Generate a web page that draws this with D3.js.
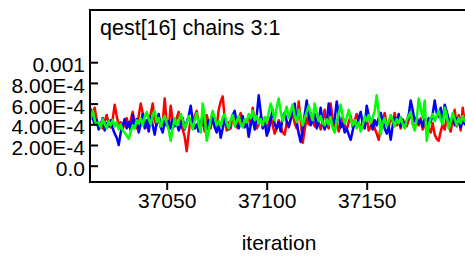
<!DOCTYPE html>
<html>
<head>
<meta charset="utf-8">
<script src="https://cdn.jsdelivr.net/npm/d3@7"></script>
<style>
  body { margin: 0; background: #fff; }
  svg { display: block; font-family: "Liberation Sans", Arial, sans-serif; }
</style>
</head>
<body>
<div id="chart-area"></div>
<script>
// trace of qest[16], values in units of 1E-4, iterations 37011..37200
var firstIter = 37011;

var redChain = [
  4.2,4.6,5.1,5.6,4.4,3.8,4.1,3.6,4.3,4.9,
  4.0,3.7,4.5,5.9,4.8,3.9,4.2,3.5,4.1,4.6,
  3.8,4.4,5.2,4.1,3.6,4.8,6.0,5.1,4.0,3.7,
  4.5,5.0,6.0,4.3,3.9,4.7,3.8,4.2,6.5,4.1,
  3.6,5.8,4.4,3.9,4.6,5.2,4.0,3.5,2.8,1.4,
  3.2,4.5,3.9,4.8,5.3,4.2,3.7,4.4,3.3,4.9,
  4.1,3.6,5.0,4.3,3.8,5.4,6.2,6.7,4.6,3.4,
  4.2,3.6,4.9,4.0,3.7,4.5,5.1,4.2,3.8,4.4,
  4.6,3.9,5.6,4.2,3.6,4.0,4.8,3.8,4.3,3.4,
  4.1,4.7,3.9,3.1,3.6,4.4,3.8,3.2,3.0,4.2,
  3.7,4.5,5.0,4.1,3.6,6.2,4.4,2.2,3.5,4.6,
  4.0,5.1,4.3,3.8,4.6,4.1,3.5,4.4,5.4,3.9,
  3.6,6.0,4.5,3.8,4.3,3.3,4.0,4.7,3.9,3.5,
  4.2,4.8,3.7,4.4,5.0,4.1,3.6,4.3,3.9,4.6,
  3.4,3.8,4.5,3.6,3.1,2.5,3.8,4.4,5.1,4.0,
  3.7,4.8,4.2,5.1,3.9,4.3,3.6,4.5,4.0,3.8,
  4.4,5.3,4.1,3.7,4.2,3.9,4.6,3.5,3.9,4.3,
  3.6,3.2,4.1,3.0,2.6,2.4,3.3,4.0,3.5,4.6,
  3.9,3.3,4.5,5.4,3.8,4.9,3.4,5.6,4.2,4.6
];

var blueChain = [
  5.9,5.4,4.6,4.0,4.4,3.5,3.9,4.6,3.4,4.1,
  3.8,4.4,3.6,3.1,2.7,2.0,3.2,3.9,4.5,3.6,
  4.2,3.4,4.9,3.8,4.5,3.2,4.0,5.0,3.6,4.4,
  3.3,4.7,3.9,3.0,4.2,5.0,3.7,3.2,4.3,3.9,
  4.3,3.6,4.5,3.8,4.1,3.4,3.9,4.6,3.5,4.2,
  4.8,5.8,4.4,3.6,4.0,3.3,4.2,4.7,3.8,3.5,
  4.4,3.9,4.6,3.7,3.2,4.1,2.7,3.6,4.5,4.0,
  3.5,4.3,4.9,5.3,4.1,3.6,4.2,4.8,3.7,4.3,
  2.8,3.9,4.6,3.5,4.8,6.8,5.2,3.6,4.3,2.9,
  3.4,4.5,5.4,4.0,3.6,4.2,3.3,4.7,5.1,4.3,
  3.8,4.5,5.5,6.0,4.2,3.1,2.3,3.4,4.9,6.3,
  4.7,3.9,4.4,5.0,3.6,4.3,5.6,4.1,3.5,4.2,
  6.0,4.8,3.9,4.5,6.2,5.0,3.7,4.1,3.2,3.6,
  3.0,2.5,3.4,4.2,3.8,4.6,5.2,4.0,3.6,5.8,
  4.9,4.2,3.5,4.4,3.9,4.6,5.1,4.3,3.6,3.1,
  3.8,2.5,3.9,4.6,4.2,5.0,3.8,4.4,3.9,4.3,
  4.9,6.3,5.4,4.3,4.7,4.1,4.4,3.8,4.5,4.0,
  4.6,4.2,5.0,6.3,5.1,4.7,5.6,4.3,5.9,5.2,
  4.5,4.1,4.8,3.9,4.6,4.2,3.7,4.4,4.0,4.3
];

var greenChain = [
  4.3,4.6,5.3,4.4,3.9,4.2,3.7,4.5,4.0,3.6,
  4.3,3.9,4.4,3.8,4.2,3.5,4.0,3.4,3.2,2.9,
  2.6,3.3,3.9,3.6,4.4,4.1,4.6,3.9,4.7,5.2,
  4.5,4.0,4.9,5.3,4.2,4.6,3.8,4.4,4.8,4.1,
  3.5,2.4,3.6,4.6,3.9,4.3,5.0,4.4,3.6,4.1,
  4.8,4.2,3.5,4.4,5.1,4.0,3.2,6.0,4.7,2.4,
  3.3,4.5,5.3,4.6,3.9,4.3,3.8,4.7,5.0,4.1,
  3.6,4.4,4.9,3.8,4.3,4.8,4.0,3.7,4.5,4.2,
  5.0,4.6,5.3,4.4,4.8,4.1,4.5,3.9,4.7,4.2,
  5.1,6.0,5.3,4.4,5.6,6.5,5.2,4.3,5.0,5.7,
  4.6,5.2,5.9,4.8,4.2,5.4,4.7,3.9,4.6,5.2,
  5.8,5.0,4.4,6.0,5.1,4.3,4.8,4.1,3.9,4.5,
  4.0,4.7,3.6,3.2,4.3,5.0,5.9,4.8,4.1,4.6,
  5.4,4.5,3.9,4.4,3.6,4.2,3.3,3.9,4.8,4.3,
  4.9,4.1,4.7,5.3,6.8,5.1,3.0,4.2,4.6,3.8,
  4.3,4.9,4.4,3.8,4.5,4.1,4.7,4.0,3.6,4.4,
  4.8,5.2,4.0,3.4,4.5,6.5,5.5,4.6,6.3,2.4,
  3.8,4.6,5.0,4.3,4.8,5.3,4.4,4.0,5.6,4.9,
  3.6,4.2,5.1,4.5,3.9,4.6,4.1,4.8,4.3,4.5
];

var chainColors = ["#ff0000", "#0000ff", "#00ff00"];

var yTicks = [0, 0.0002, 0.0004, 0.0006, 0.0008, 0.001];
var yTickLabels = ["0.0", "2.00E-4", "4.00E-4", "6.00E-4", "8.00E-4", "0.001"];
var xTicks = [37050, 37100, 37150];

var title = "qest[16] chains 3:1";

var width = 465, height = 258;
var box = { left: 90, right: 468, top: 10, bottom: 182 };

var svg = d3.select("#chart-area")
	.append("svg")
		.attr("width", width)
		.attr("height", height);

var x = d3.scaleLinear()
	.domain([37011.65, 37200.65])
	.range([box.left, box.right]);

var y = d3.scaleLinear()
	.domain([0, 0.001])
	.range([165.7, 62.2]);

svg.append("clipPath")
	.attr("id", "plot-clip")
	.append("rect")
		.attr("x", box.left + 1)
		.attr("y", box.top + 1)
		.attr("width", box.right - box.left - 2)
		.attr("height", box.bottom - box.top - 2);

var line = d3.line()
	.x(function(d, i) { return x(firstIter + i); })
	.y(function(d) { return y(d * 1e-4); });

var plot = svg.append("g").attr("clip-path", "url(#plot-clip)");

[redChain, blueChain, greenChain].forEach(function(chain, k) {
	plot.append("path")
		.datum(chain)
		.attr("fill", "none")
		.attr("stroke", chainColors[k])
		.attr("stroke-width", 2.5)
		.attr("stroke-linejoin", "round")
		.attr("d", line);
});

// frame (right side runs off the picture)
svg.append("rect")
	.attr("x", box.left)
	.attr("y", box.top)
	.attr("width", box.right - box.left)
	.attr("height", box.bottom - box.top)
	.attr("fill", "none")
	.attr("stroke", "#000")
	.attr("stroke-width", 2);

var yAxisCall = d3.axisLeft(y)
	.tickValues(yTicks)
	.tickSize(-8)
	.tickPadding(5)
	.tickFormat(function(d, i) { return yTickLabels[i]; });

svg.append("g")
	.attr("class", "y axis")
	.attr("transform", "translate(" + box.left + ",0)")
	.call(yAxisCall)
	.call(function(g) { g.select(".domain").remove(); })
	.call(function(g) {
		g.selectAll("line").attr("stroke-width", 2);
		g.selectAll("text")
			.attr("font-size", "21px")
			.attr("font-family", "Liberation Sans, Arial, sans-serif")
			.attr("fill", "#000")
			.attr("dy", "0.45em");
	});

var xAxisCall = d3.axisBottom(x)
	.tickValues(xTicks)
	.tickSize(8)
	.tickPadding(3)
	.tickFormat(d3.format("d"));

svg.append("g")
	.attr("class", "x axis")
	.attr("transform", "translate(0," + box.bottom + ")")
	.call(xAxisCall)
	.call(function(g) { g.select(".domain").remove(); })
	.call(function(g) {
		g.selectAll("line").attr("stroke-width", 2);
		g.selectAll("text")
			.attr("font-size", "21px")
			.attr("font-family", "Liberation Sans, Arial, sans-serif")
			.attr("fill", "#000");
	});

// title
svg.append("text")
	.attr("x", 100)
	.attr("y", 35)
	.attr("font-size", "21.5px")
	.text(title);

// X label
svg.append("text")
	.attr("x", (box.left + box.right) / 2)
	.attr("y", 250)
	.attr("font-size", "21px")
	.attr("text-anchor", "middle")
	.text("iteration");
</script>
</body>
</html>
